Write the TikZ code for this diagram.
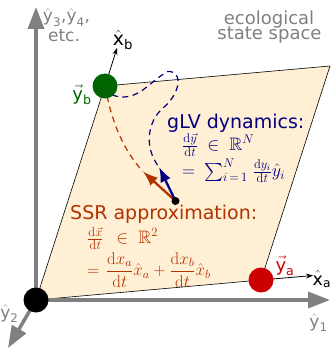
\RequirePackage{fix-cm}
\documentclass[tikz,border=0pt]{standalone}
\usepackage{amsmath,amssymb}
\usepackage[no-math]{fontspec}
\setmainfont{DejaVu Sans}
\usetikzlibrary{arrows.meta}
\definecolor{axgray}{RGB}{128,128,128}
\definecolor{planefill}{RGB}{255,239,213}
\definecolor{ssrcol}{RGB}{178,50,0}
\definecolor{glvcol}{RGB}{0,0,128}
\definecolor{dotgreen}{RGB}{0,100,0}
\definecolor{dotred}{RGB}{204,0,0}
\begin{document}
\begin{tikzpicture}[x=1pt,y=-1pt,
  axisline/.style={draw=axgray, line width=3.5pt, -{Triangle[length=22pt,width=16pt]}},
  axlabel/.style={text=axgray, font=\fontsize{17}{17}\selectfont, inner sep=0pt, anchor=base},
  unitvec/.style={draw=black, line width=0.8pt, -{Stealth[length=7pt,width=5pt]}},
  bigdot/.style={circle, inner sep=0pt, minimum size=25pt},
  vecarrow/.style={line width=2.3pt, -{Latex[length=15pt,width=11pt]}},
  dashcurve/.style={line width=1.2pt, dash pattern=on 6pt off 4.5pt},
  titletext/.style={font=\fontsize{19}{19}\selectfont, inner sep=0pt, anchor=base west},
  mathtext/.style={font=\fontsize{18}{18}\selectfont, inner sep=0pt, anchor=base west},
  veclabel/.style={font=\fontsize{18}{18}\selectfont, inner sep=0pt, anchor=base}
]
\useasboundingbox (0,0) rectangle (332,350);
% key points
\coordinate (O) at (36,300);
\coordinate (A) at (261,280);
\coordinate (B) at (105,86);
\coordinate (C) at (330,66);
\coordinate (ytop) at (36,7);
\coordinate (yright) at (330,300);
\coordinate (ydown) at (8,348);
\coordinate (xaend) at (313,275.5);
\coordinate (xbend) at (117,48);
\coordinate (P) at (175.5,201);
\coordinate (rtip) at (143,171.5);
\coordinate (btip) at (159,167);
% plane
\filldraw[fill=planefill, draw=black, line width=0.6pt] (O) -- (A) -- (C) -- (B) -- cycle;
% axes
\draw[axisline] (O) -- (ytop);
\draw[axisline] (O) -- (yright);
\draw[axisline] (O) -- (ydown);
% unit vectors of the plane
\draw[unitvec] (A) -- (xaend);
\draw[unitvec] (B) -- (xbend);
% dashed trajectories
\draw[dashcurve, draw=ssrcol] (B) .. controls (112,125) and (125,152) .. (rtip);
\draw[dashcurve, draw=glvcol] (112,95) .. controls (138,104) and (150,80) .. (168,71.5)
   .. controls (184,71) and (180,94) .. (163,108)
   .. controls (147,122) and (144,148) .. (btip);
% velocity arrows
\draw[vecarrow, draw=ssrcol, fill=ssrcol] (P) -- (rtip);
\draw[vecarrow, draw=glvcol, fill=glvcol] (P) -- (btip);
% dots
\node[bigdot, fill=black] (dotO) at (O) {};
\node[bigdot, fill=dotred] (dotA) at (A) {};
\node[bigdot, fill=dotgreen] (dotB) at (B) {};
\node[circle, fill=black, inner sep=0pt, minimum size=8pt] (dotP) at (P) {};
% labels
\node[veclabel, anchor=base west, font=\fontsize{17.5}{17.5}\selectfont] (lxa) at (312.5,285) {$\hat{\text{x}}_{\text{a}}$};
\node[veclabel, font=\fontsize{19}{19}\selectfont] (lxb) at (123,46) {$\hat{\text{x}}_{\text{b}}$};
\node[veclabel, text=dotgreen] (lyb) at (82,100) {$\vec{\text{y}}_{\text{b}}$};
\node[veclabel, text=dotred] (lya) at (285,271) {$\vec{\text{y}}_{\text{a}}$};
\node[axlabel] (ly1) at (318.5,327) {$\hat{\text{y}}_{\text{1}}$};
\node[axlabel] (ly2) at (9.5,318) {$\hat{\text{y}}_{\text{2}}$};
\node[axlabel] (ly3) at (66.5,22) {$\hat{\text{y}}_{\text{3}}$,$\hat{\text{y}}_{\text{4}}$,};
\node[axlabel] (letc) at (64,42) {etc.};
\node[axlabel, font=\fontsize{18}{18}\selectfont] (leco1) at (269,25) {ecological};
\node[axlabel, font=\fontsize{18}{18}\selectfont] (leco2) at (269.5,40) {state space};
% gLV text
\node[titletext, text=glvcol] (glv) at (167,128) {gLV dynamics:};
\node[mathtext, text=glvcol] (glv1) at (182,150.5) {$\frac{\mathrm{d}\vec{y}}{\mathrm{d}t}\mskip4.5mu\in\mskip5mu\mathbb{R}^{N}$};
\node[mathtext, text=glvcol] (glv2) at (182,176.5) {$=\mskip4mu\sum_{i\,=\,1}^{N}\mskip2mu\frac{\mathrm{d}y_i}{\mathrm{d}t}\hat{y}_i$};
% SSR text
\node[titletext, text=ssrcol] (ssr) at (70,219) {SSR approximation:};
\node[mathtext, text=ssrcol] (ssr1) at (87,243.5) {$\frac{\mathrm{d}\vec{x}}{\mathrm{d}t}\mskip8mu\in\mskip5mu\mathbb{R}^{2}$};
\node[mathtext, text=ssrcol, font=\fontsize{17}{17}\selectfont] (ssr2) at (87,275.75) {$=\mskip2mu\dfrac{\mathrm{d}x_a}{\mathrm{d}t}\hat{x}_a+\dfrac{\mathrm{d}x_b}{\mathrm{d}t}\hat{x}_b$};
\end{tikzpicture}
\end{document}
